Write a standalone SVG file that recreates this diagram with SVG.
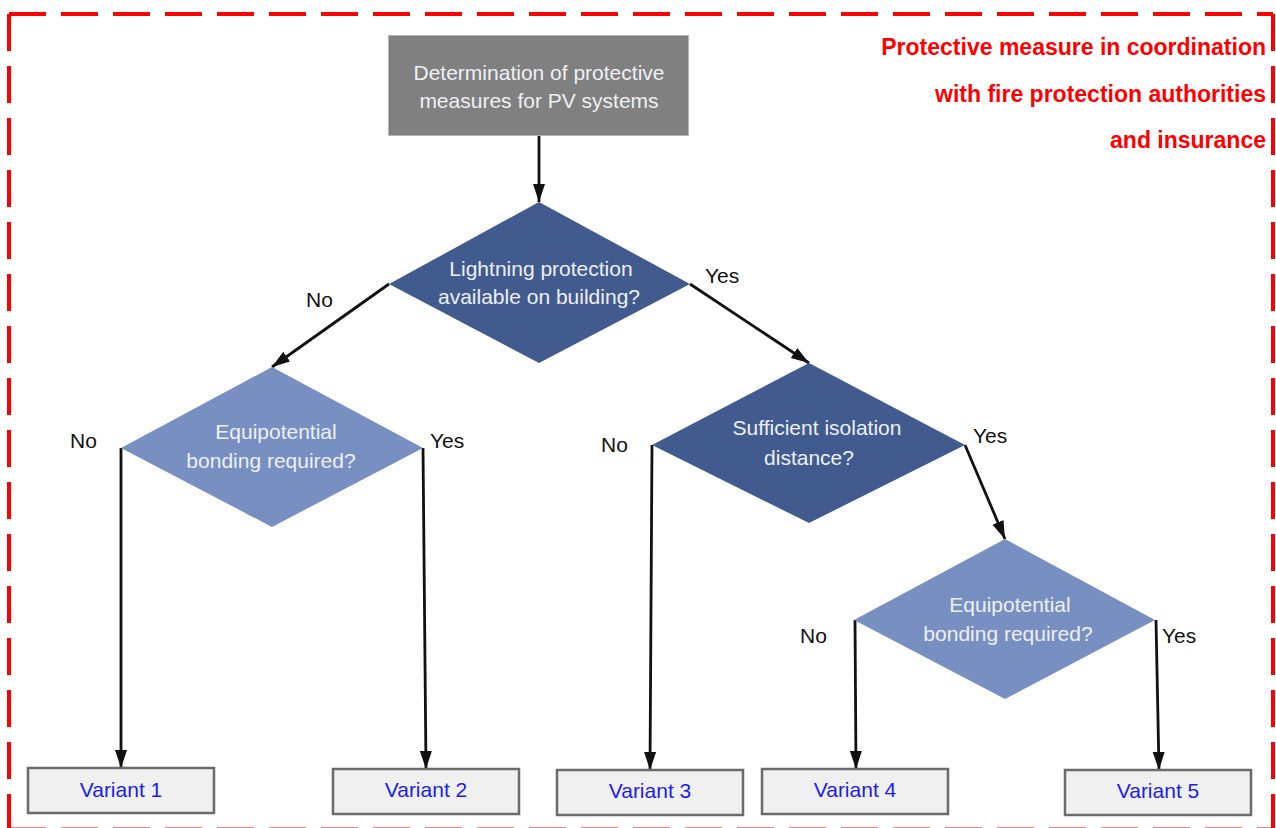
<svg xmlns="http://www.w3.org/2000/svg" width="1276" height="828" viewBox="0 0 1276 828">
<style>
  .frame { stroke: #ff0000; stroke-width: 4; fill: none; stroke-dasharray: 37 15; }
  .note { font-family: "Liberation Sans", Arial, sans-serif; font-weight: bold; font-size: 23px; fill: #ff0000; text-anchor: end; }
  .start { fill: #808080; stroke: #b4b4b4; stroke-width: 1; }
  .dark { fill: #415b8f; }
  .light { fill: #788fc2; }
  .ntext { font-family: "Liberation Sans", Arial, sans-serif; font-size: 21px; fill: #eef0f6; text-anchor: middle; }
  .lbl { font-family: "Liberation Sans", Arial, sans-serif; font-size: 21px; fill: #111111; }
  .var { fill: #f0f0f0; stroke: #6b6b6b; stroke-width: 2.5; }
  .vtext { font-family: "Liberation Sans", Arial, sans-serif; font-size: 21px; fill: #1c1cf0; text-anchor: middle; }
  .conn { stroke: #111111; stroke-width: 2.8; fill: none; marker-end: url(#arr); }
</style>
<defs>
  <marker id="arr" markerUnits="userSpaceOnUse" markerWidth="20" markerHeight="14" refX="18" refY="6" orient="auto">
    <path d="M0,0 L18,6 L0,12 Z" fill="#111111"/>
  </marker>
</defs>
<rect width="1276" height="828" fill="#ffffff"/>

<g id="frame">
  <line class="frame" x1="9" y1="14" x2="1273" y2="14"/>
  <line class="frame" x1="9" y1="14" x2="9" y2="829"/>
  <line class="frame" x1="1273" y1="14" x2="1273" y2="829"/>
  <line class="frame" x1="9" y1="829.5" x2="1273" y2="829.5"/>
  <text class="note" x="1266" y="55">Protective measure in coordination</text>
  <text class="note" x="1266" y="102">with fire protection authorities</text>
  <text class="note" x="1266" y="148">and insurance</text>
</g>

<g id="connectors">
  <line class="conn" x1="539" y1="136" x2="539" y2="202"/>
  <line class="conn" x1="389" y1="284" x2="272" y2="367"/>
  <line class="conn" x1="690" y1="284" x2="809" y2="363"/>
  <line class="conn" x1="121" y1="448" x2="121" y2="768"/>
  <line class="conn" x1="423" y1="448" x2="426" y2="769"/>
  <line class="conn" x1="652" y1="445" x2="650" y2="770"/>
  <line class="conn" x1="965" y1="445" x2="1005" y2="539"/>
  <line class="conn" x1="855" y1="620" x2="856" y2="769"/>
  <line class="conn" x1="1156" y1="620" x2="1159" y2="770"/>
  <text class="lbl" x="306" y="307">No</text>
  <text class="lbl" x="705" y="283">Yes</text>
  <text class="lbl" x="70" y="448">No</text>
  <text class="lbl" x="430" y="448">Yes</text>
  <text class="lbl" x="601" y="452">No</text>
  <text class="lbl" x="973" y="443">Yes</text>
  <text class="lbl" x="800" y="643">No</text>
  <text class="lbl" x="1162" y="643">Yes</text>
</g>

<g id="start">
  <rect class="start" x="388.5" y="35.5" width="300" height="100"/>
  <text class="ntext" x="539" y="80">Determination of protective</text>
  <text class="ntext" x="539" y="108">measures for PV systems</text>
</g>

<g id="q-lightning">
  <polygon class="dark" points="539,202 690,284 539,363 389,284"/>
  <text class="ntext" x="541" y="276">Lightning protection</text>
  <text class="ntext" x="539" y="304">available on building?</text>
</g>

<g id="q-bonding-1">
  <polygon class="light" points="272,367 423,448 272,527 121,448"/>
  <text class="ntext" x="276" y="439">Equipotential</text>
  <text class="ntext" x="271" y="468">bonding required?</text>
</g>

<g id="q-isolation">
  <polygon class="dark" points="809,363 965,445 809,523 652,445"/>
  <text class="ntext" x="817" y="435">Sufficient isolation</text>
  <text class="ntext" x="809" y="465">distance?</text>
</g>

<g id="q-bonding-2">
  <polygon class="light" points="1005,539 1155,620 1005,699 854,620"/>
  <text class="ntext" x="1010" y="612">Equipotential</text>
  <text class="ntext" x="1008" y="641">bonding required?</text>
</g>

<g id="variant-1">
  <rect class="var" x="28" y="768" width="186" height="45"/>
  <text class="vtext" x="121" y="797">Variant 1</text>
</g>
<g id="variant-2">
  <rect class="var" x="333" y="769" width="186" height="45"/>
  <text class="vtext" x="426" y="797">Variant 2</text>
</g>
<g id="variant-3">
  <rect class="var" x="557" y="770" width="186" height="45"/>
  <text class="vtext" x="650" y="798">Variant 3</text>
</g>
<g id="variant-4">
  <rect class="var" x="762" y="769" width="186" height="45"/>
  <text class="vtext" x="855" y="797">Variant 4</text>
</g>
<g id="variant-5">
  <rect class="var" x="1065" y="770" width="186" height="45"/>
  <text class="vtext" x="1158" y="798">Variant 5</text>
</g>
</svg>
